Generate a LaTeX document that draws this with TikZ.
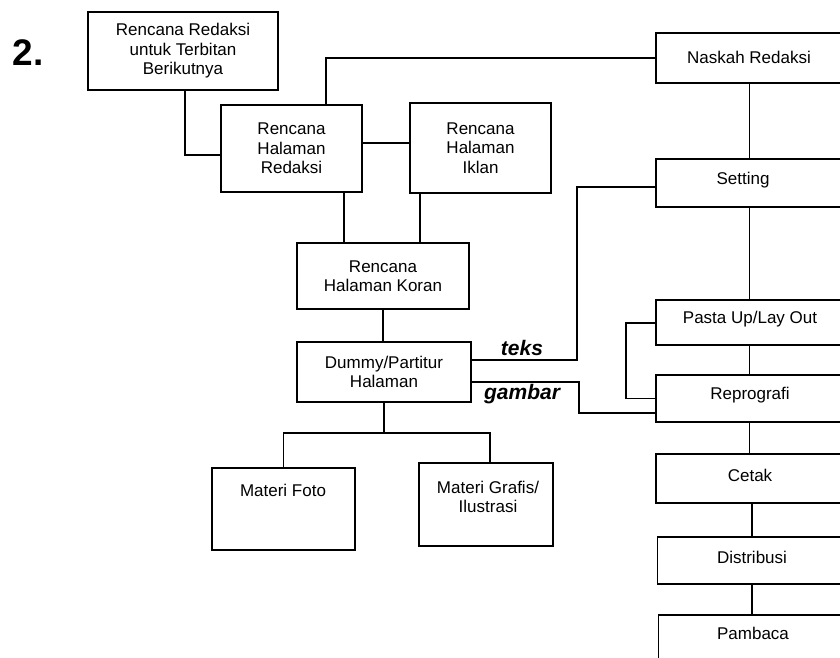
\documentclass[tikz,border=0pt]{standalone}
\usepackage{fontspec}
\setmainfont{Liberation Sans}
\begin{document}
\begin{tikzpicture}[x=1pt,y=-1pt,
  box/.style={draw, line width=1.4pt, inner sep=0pt, align=center,
    font=\fontsize{17}{19.5}\selectfont},
  txt/.style={align=center, font=\fontsize{17}{19.5}\selectfont, inner sep=0pt},
  lab/.style={font=\fontsize{21}{24}\selectfont\bfseries\itshape, inner sep=0pt, anchor=base},
  wire/.style={line width=1.3pt}]
\useasboundingbox (0,0) rectangle (840,658);
\clip (0,0) rectangle (840,658);
\fill[white] (0,0) rectangle (840,658);

\node[font=\fontsize{37}{40}\selectfont\bfseries, inner sep=0pt] (num) at (28,53) {2.};

% left part
\node[box, minimum width=190, minimum height=78] (A) at (183,51) {Rencana Redaksi\\untuk Terbitan\\Berikutnya};
\node[box, minimum width=141, minimum height=87] (B) at (291.5,148.5) {Rencana\\Halaman\\Redaksi};
\node[box, minimum width=141, minimum height=90] (C) at (480.5,148) {Rencana\\Halaman\\Iklan};
\node[box, minimum width=172, minimum height=66] (D) at (383,276) {Rencana\\Halaman Koran};
\node[box, minimum width=174, minimum height=60] (E) at (384,372) {Dummy/Partitur\\Halaman};
\node[box, minimum width=143, minimum height=82] (F) at (283.5,509) {};
\node[txt] (Ft) at (283,490) {Materi Foto};
\node[box, minimum width=134, minimum height=83] (G) at (486,504.5) {};
\node[txt] (Gt) at (488,497) {Materi Grafis/\\Ilustrasi};

% right column
\node[box, minimum width=187, minimum height=50] (N) at (749.5,58) {};
\node[txt] (Nt) at (749,57) {Naskah Redaksi};
\node[box, minimum width=187, minimum height=48] (S) at (749.5,183) {};
\node[txt] (St) at (743,180) {Setting};
\node[box, minimum width=187, minimum height=45] (P) at (749.5,322.5) {};
\node[txt] (Pt) at (750,319) {Pasta Up/Lay Out};
\node[box, minimum width=187, minimum height=47] (R) at (749.5,398.5) {};
\node[txt] (Rt) at (750,395) {Reprografi};
\node[box, minimum width=187, minimum height=49] (Ce) at (749.5,478.5) {};
\node[txt] (Cet) at (750,475) {Cetak};
\node[box, minimum width=187, minimum height=47] (Di) at (751,560.5) {};
\node[txt] (Dit) at (752,557) {Distribusi};
\node[box, minimum width=187, minimum height=85] (Pa) at (752,657.5) {};
\node[txt] (Pat) at (753,633) {Pambaca};

% connectors
\draw[wire] ([xshift=2]A.south) |- ([yshift=-6.5]B.west);
\draw[wire] ([xshift=34.5]B.north) |- (N.west);
\draw[wire] ([yshift=5.5]B.east) -- ([yshift=5.5]B.east -| C.west);
\draw[wire] ([xshift=52.5]B.south) -- ([xshift=52.5]B.south |- D.north);
\draw[wire] ([xshift=-60.5]C.south) -- ([xshift=-60.5]C.south |- D.north);
\draw[wire] (D.south) -- (D.south |- E.north);
\coordinate (J) at (384,433);
\draw[wire] (E.south) -- (J);
\draw[wire] (F.north) |- (J) -| ([xshift=4]G.north);

\coordinate (T) at (577,187);
\draw[wire] ([yshift=12]E.east) -| (T) -- (T -| S.west);
\coordinate (Gm) at (579,413);
\draw[wire] ([yshift=-10]E.east) -| (Gm) -- (Gm -| R.west);
\node[lab] (teks) at (522,355) {teks};
\node[lab] (gambar) at (522,399) {gambar};

\coordinate (L) at (626,323);
\draw[wire] (P.west |- L) -- (L) |- (R.west);

\draw[wire] (N.south) -- (S.north);
\draw[wire] (S.south) -- (P.north);
\draw[wire] (P.south) -- (R.north);
\draw[wire] (R.south) -- (R.south |- Ce.north);
\draw[wire] ([xshift=2.5]Ce.south) -- ([xshift=2.5]Ce.south |- Di.north);
\draw[wire] ([xshift=1]Di.south) -- ([xshift=1]Di.south |- Pa.north);
\end{tikzpicture}
\end{document}
